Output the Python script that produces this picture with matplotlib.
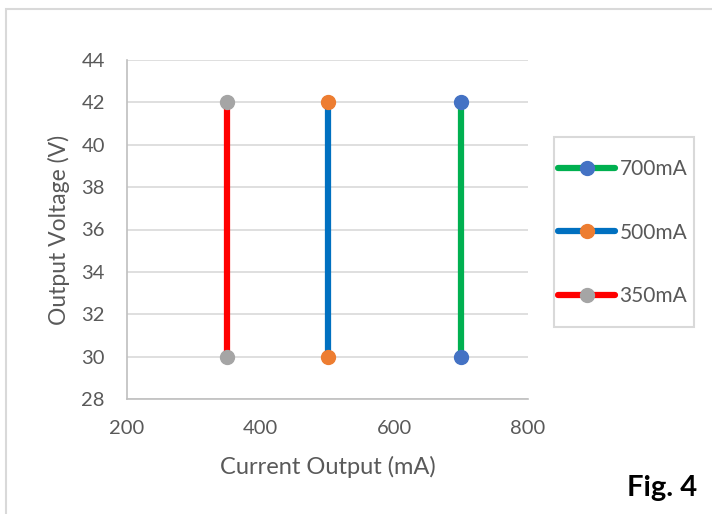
import matplotlib.pyplot as plt
from matplotlib.patches import Rectangle

series = ['700mA', '500mA', '350mA']
currents = [[700, 700], [500, 500], [350, 350]]
voltages = [[30, 42], [30, 42], [30, 42]]
line_colors = ['#00B050', '#0070C0', '#FF0000']
marker_colors = ['#4472C4', '#ED7D31', '#A5A5A5']

plt.rcParams['font.family'] = ['Lato', 'DejaVu Sans']
text_color = '#595959'

fig = plt.figure(figsize=(7.12, 5.14), dpi=100)
W, H = 712, 514
ax = fig.add_axes([127 / W, 1 - 399 / H, (528 - 127) / W, (399 - 60) / H])

for x, y, lc, mc, name in zip(currents, voltages, line_colors, marker_colors, series):
    ax.plot(x, y, color=lc, lw=4.5, marker='o', ms=10, mfc=mc, mec=mc,
            label=name, solid_capstyle='round', zorder=3)

ax.set_xlim(200, 800)
ax.set_ylim(28, 44)
ax.set_xticks([200, 400, 600, 800])
ax.set_yticks(range(28, 45, 2))
ax.grid(axis='y', color='#D9D9D9', lw=1.2)
ax.set_axisbelow(True)
for s in ['top', 'right']:
    ax.spines[s].set_visible(False)
for s in ['left', 'bottom']:
    ax.spines[s].set_color('#BFBFBF')
    ax.spines[s].set_linewidth(1.2)
ax.tick_params(length=0, labelsize=14.5, colors=text_color)
ax.tick_params(axis='x', pad=15)
ax.tick_params(axis='y', pad=16)
ax.set_xlabel('Current Output (mA)', fontsize=17, color=text_color, labelpad=14)
ax.set_ylabel('Output Voltage (V)', fontsize=16.5, color=text_color, labelpad=8)

leg = ax.legend(loc='upper left', bbox_to_anchor=(558 / W, 1 - 159 / H),
                bbox_transform=fig.transFigure, fontsize=15, frameon=False,
                labelspacing=2.1, handlelength=2.75, handletextpad=0.2,
                borderaxespad=0, borderpad=0, labelcolor=text_color)

# legend frame and outer chart border
fig.patches.append(Rectangle((554 / W, 1 - 327 / H), (694 - 554) / W, (327 - 137) / H,
                             transform=fig.transFigure, fill=False, edgecolor='#D9D9D9', lw=1.5))
fig.patches.append(Rectangle((6 / W, -0.02), 1.0, 1 - 9 / H + 0.02, transform=fig.transFigure,
                             fill=False, edgecolor='#D9D9D9', lw=1.5))

fig.text(697 / W, 1 - 488 / H, 'Fig. 4', ha='right', va='center', fontsize=21,
         fontweight='bold', color='black')

fig.savefig('out.png', dpi=100)
